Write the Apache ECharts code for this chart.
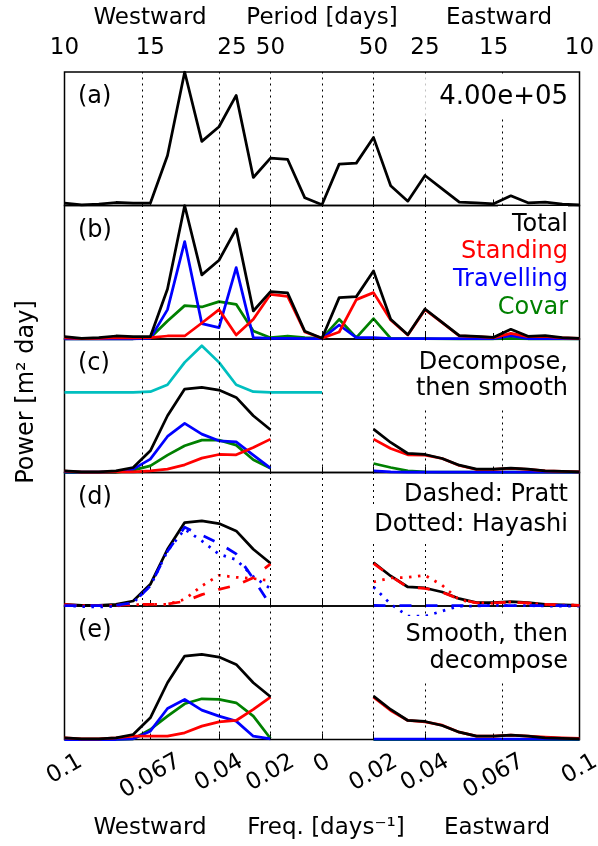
<!DOCTYPE html>
<html><head><meta charset="utf-8">
<script src="https://cdn.jsdelivr.net/npm/echarts@6/dist/echarts.min.js"></script>
<style>html,body{margin:0;padding:0;background:#fff}#c{width:598px;height:846px}</style>
</head><body><div id="c"></div>
<script>
// ---------------- DATA (power in units of 1e5 m^2 day) ----------------
const freq = [-0.1, -0.09333, -0.08667, -0.08, -0.07333, -0.06667, -0.06, -0.05333, -0.04667, -0.04, -0.03333, -0.02667, -0.02, -0.01333, -0.00667, 0,
  0.00667, 0.01333, 0.02, 0.02667, 0.03333, 0.04, 0.04667, 0.05333, 0.06, 0.06667, 0.07333, 0.08, 0.08667, 0.09333, 0.1];

const topTickValues = [-0.1, -0.06667, -0.035, -0.02, 0.02, 0.04, 0.06667, 0.1];
const topTickLabels = ['10', '15', '25', '50', '50', '25', '15', '10'];
const bottomTickValues = [-0.1, -0.06667, -0.04, -0.02, 0, 0.02, 0.04, 0.06667, 0.1];
const bottomTickLabels = ['0.1', '0.067', '0.04', '0.02', '0', '0.02', '0.04', '0.067', '0.1'];
const gridLineValues = [-0.06667, -0.04, -0.02, 0, 0.02, 0.04, 0.06667];
const yMax = 4.0;

// (a)/(b) raw spectra
const totalRaw = [0.07, 0.02, 0.04, 0.09, 0.07, 0.07, 1.50, 4.00, 1.92, 2.36, 3.30, 0.84, 1.42, 1.38, 0.23, 0.02,
  1.24, 1.27, 2.04, 0.59, 0.13, 0.90, 0.50, 0.10, 0.08, 0.05, 0.29, 0.08, 0.10, 0.04, 0.02];
const standingRaw = [0.03, 0.01, 0.02, 0.04, 0.03, 0.04, 0.09, 0.09, 0.48, 0.88, 0.12, 0.59, 1.34, 1.28, 0.21, 0.02,
  0.21, 1.18, 1.39, 0.57, 0.12, 0.88, 0.49, 0.09, 0.07, 0.04, 0.17, 0.07, 0.08, 0.03, 0.02];
const travellingRaw = [0, 0, 0, 0, 0, 0.02, 0.88, 2.92, 0.46, 0.34, 2.14, 0.04, 0.02, 0.02, 0.01, 0.01,
  0.42, 0.04, 0.04, 0.01, 0.01, 0.01, 0.01, 0.01, 0.01, 0.01, 0.10, 0.01, 0.01, 0.01, 0];
const covarRaw = [0, 0, 0, 0, 0, 0.04, 0.54, 1.00, 0.96, 1.12, 1.04, 0.24, 0.04, 0.09, 0.04, 0.02,
  0.59, 0.04, 0.61, 0.02, 0.01, 0.01, 0, 0, 0, 0, 0.02, 0, 0, 0, 0];

// smoothed total (c, d, e)
const totalSmooth = [0.05, 0.02, 0.02, 0.05, 0.15, 0.65, 1.70, 2.50, 2.55, 2.47, 2.25, 1.70, 1.28, null, null, null,
  null, null, 1.30, 0.90, 0.57, 0.54, 0.42, 0.22, 0.10, 0.10, 0.13, 0.10, 0.05, 0.03, 0.02];
// (c) decompose, then smooth
const standingC = [0.04, 0.01, 0.01, 0.02, 0.02, 0.05, 0.10, 0.23, 0.43, 0.54, 0.53, 0.75, 1.00, null, null, null,
  null, null, 1.00, 0.72, 0.53, 0.52, 0.42, 0.21, 0.09, 0.09, 0.12, 0.09, 0.05, 0.03, 0.02];
const travellingC = [0.01, 0.01, 0.01, 0.02, 0.10, 0.40, 1.08, 1.47, 1.15, 0.95, 0.92, 0.52, 0.13, null, null, null,
  null, null, 0.05, 0.02, 0.01, 0.01, 0.01, 0.01, 0.01, 0.01, 0.01, 0.01, 0.01, 0.01, 0.01];
const covarC = [0, 0, 0, 0, 0.07, 0.20, 0.52, 0.80, 0.97, 0.97, 0.82, 0.38, 0.13, null, null, null,
  null, null, 0.27, 0.15, 0.05, 0.02, 0.01, 0.01, 0.01, 0.01, 0.01, 0.01, 0.01, 0.01, 0.01];
const kernelC = [2.40, 2.40, 2.40, 2.40, 2.40, 2.42, 2.63, 3.30, 3.80, 3.30, 2.63, 2.42, 2.40, 2.40, 2.40, 2.40,
  null, null, null, null, null, null, null, null, null, null, null, null, null, null, null];
// (d) Pratt (dashed) and Hayashi (dotted)
const standingPratt = [0.04, 0.01, 0.01, 0.02, 0.05, 0.05, 0.06, 0.14, 0.34, 0.50, 0.62, 0.85, 1.26, null, null, null,
  null, null, 1.28, 0.89, 0.56, 0.53, 0.41, 0.21, 0.09, 0.09, 0.12, 0.09, 0.05, 0.03, 0.02];
const travellingPratt = [0.01, 0.01, 0.01, 0.02, 0.10, 0.60, 1.64, 2.36, 2.12, 1.88, 1.56, 0.82, 0.02, null, null, null,
  null, null, 0.02, 0.01, 0.01, 0.01, 0.01, 0.01, 0.01, 0.01, 0.01, 0.01, 0.01, 0.01, 0.01];
const standingHayashi = [0.03, 0.01, 0.01, 0.02, 0.04, 0.05, 0.05, 0.20, 0.60, 0.92, 0.86, 0.82, 0.76, null, null, null,
  null, null, 0.72, 0.84, 0.86, 0.92, 0.62, 0.18, 0.10, 0.08, 0.12, 0.08, 0.05, 0.03, 0.02];
const travellingHayashi = [0.02, -0.02, -0.03, -0.01, 0.10, 0.60, 1.65, 2.30, 1.95, 1.55, 1.39, 0.88, 0.52, null, null, null,
  null, null, 0.57, 0.06, -0.30, -0.31, -0.15, 0.00, 0.00, 0.02, 0.01, 0.01, 0.00, 0.00, 0.00];
// (e) smooth, then decompose
const standingE = [0.05, 0.02, 0.02, 0.05, 0.10, 0.10, 0.10, 0.20, 0.40, 0.53, 0.57, 0.90, 1.27, null, null, null,
  null, null, 1.27, 0.87, 0.57, 0.53, 0.43, 0.22, 0.10, 0.10, 0.13, 0.10, 0.07, 0.05, 0.03];
const travellingE = [0, 0, 0, 0, 0.02, 0.25, 0.93, 1.20, 0.88, 0.70, 0.55, 0.10, 0.02, null, null, null,
  null, null, 0.01, 0.01, 0.01, 0.01, 0.01, 0.01, 0.01, 0.01, 0.01, 0.01, 0.01, 0.01, 0.01];
const covarE = [0, 0, 0, 0, 0.02, 0.30, 0.70, 1.07, 1.22, 1.20, 1.10, 0.70, 0.03, null, null, null,
  null, null, 0, 0, 0, 0, 0, 0, 0, 0, 0, 0, 0, 0, 0];

// ---------------- LAYOUT ----------------
const FONT = '"DejaVu Sans", sans-serif';
const FS = 23;   // axis text
const AFS = 24;  // annotation text
const L = 64.5, W = 515;
const tops = [72, 205.5, 339, 472.5, 606];
const H = 133.5;
const LW = 2.75;
const BLACK = '#000000', RED = '#ff0000', BLUE = '#0000ff', GREEN = '#008000', CYAN = '#00bfbf';
const DASH = [12, 14], DOT = [2.5, 6.5];

const chart = echarts.init(document.getElementById('c'), null, {renderer: 'canvas'});

const grids = tops.map(t => ({left: L, top: t, width: W, height: H, show: true, borderColor: '#000', borderWidth: 1.5,
  backgroundColor: 'transparent', containLabel: false, outerBoundsMode: 'none'}));

function findLabel(vals, labels, v) {
  const i = vals.findIndex(b => Math.abs(b - v) < 1e-4);
  return i < 0 ? '' : labels[i];
}
const richKey = {'0': 'r0', '0.1': 'r1', '0.02': 'r2', '0.04': 'r2', '0.067': 'r3'};
function richFor(w) { const d = 0.25 * w; return {fontSize: FS, fontFamily: FONT, color: '#000', padding: [1.732 * d, d, 0, 0]}; }

const xAxes = tops.map((t, g) => ({
  type: 'value', gridIndex: g, min: -0.1, max: 0.1, position: 'bottom',
  axisLine: {show: false}, splitLine: {show: false},
  axisTick: {show: true, inside: true, length: 6, customValues: bottomTickValues, lineStyle: {color: '#000', width: 1}},
  axisLabel: g === 4 ? {
    show: true, customValues: bottomTickValues, rotate: 30, align: 'center', verticalAlign: 'middle', margin: 21,
    showMinLabel: true, showMaxLabel: true, hideOverlap: false,
    formatter: v => { const s = findLabel(bottomTickValues, bottomTickLabels, v); return '{' + richKey[s] + '|' + s + '}'; },
    rich: {r0: richFor(14), r1: richFor(35), r2: richFor(49), r3: richFor(63)}
  } : {show: false}
}));
xAxes.push({
  type: 'value', gridIndex: 0, min: -0.1, max: 0.1, position: 'top',
  axisLine: {show: false}, splitLine: {show: false}, axisTick: {show: false},
  axisLabel: {show: true, customValues: topTickValues, showMinLabel: true, showMaxLabel: true, hideOverlap: false,
    margin: 12, fontSize: FS, fontFamily: FONT, color: '#000',
    formatter: v => findLabel(topTickValues, topTickLabels, v)}
});
const yAxes = tops.map((t, g) => ({type: 'value', gridIndex: g, min: 0, max: yMax,
  axisLine: {show: false}, axisTick: {show: false}, axisLabel: {show: false}, splitLine: {show: false}}));

function pts(arr) { return freq.map((f, i) => [f, arr[i] === null ? '-' : arr[i]]); }
function line(g, arr, color, type, z, clip) {
  return {type: 'line', xAxisIndex: g, yAxisIndex: g, data: pts(arr), symbol: 'none', showSymbol: false,
    lineStyle: {color: color, width: LW, type: type || 'solid', join: 'round', cap: 'butt'},
    itemStyle: {color: color}, z: z || 3, clip: clip !== false, animation: false, connectNulls: false};
}
const series = [];
tops.forEach((t, g) => {
  series.push({type: 'line', xAxisIndex: g, yAxisIndex: g, data: [], z: 1, silent: true, animation: false,
    markLine: {silent: true, symbol: 'none', animation: false, label: {show: false},
      lineStyle: {color: '#000', width: 1, type: [2, 4]},
      data: gridLineValues.map(v => ({xAxis: v}))}});
});
// (a)
series.push(line(0, totalRaw, BLACK, 'solid', 4));
// (b)
series.push(line(1, covarRaw, GREEN), line(1, travellingRaw, BLUE), line(1, standingRaw, RED), line(1, totalRaw, BLACK, 'solid', 4));
// (c)
series.push(line(2, kernelC, CYAN), line(2, covarC, GREEN), line(2, travellingC, BLUE), line(2, standingC, RED), line(2, totalSmooth, BLACK, 'solid', 4));
// (d)
series.push(line(3, totalSmooth, BLACK, 'solid', 3),
  line(3, standingHayashi, RED, DOT, 4, false), line(3, travellingHayashi, BLUE, DOT, 4, false),
  line(3, standingPratt, RED, DASH, 4), line(3, travellingPratt, BLUE, DASH, 4));
// (e)
series.push(line(4, covarE, GREEN), line(4, travellingE, BLUE), line(4, standingE, RED), line(4, totalSmooth, BLACK, 'solid', 4));

// ---------------- TEXT ----------------
const graphics = [];
function txt(text, x, y, opt) {
  opt = opt || {};
  const base = {text: text, fill: opt.color || '#000', fontSize: opt.size || AFS, fontFamily: FONT,
    align: opt.align || 'right', verticalAlign: 'middle'};
  if (opt.box) {
    graphics.push({type: 'text', x: x, y: y, z: 90, silent: true,
      style: Object.assign({}, base, {fill: 'rgba(0,0,0,0)', backgroundColor: '#fff', padding: [7, 7, 7, 7]})});
  }
  graphics.push({type: 'text', x: x, y: y, z: 100, silent: true, rotation: opt.rotation || 0, style: base});
}
const RX = 568;
['(a)', '(b)', '(c)', '(d)', '(e)'].forEach((s, i) => txt(s, 78, tops[i] + 25, {align: 'left'}));
txt('4.00e+05', RX, 97, {box: true, size: 26});
txt('Total', RX, 225, {box: true});
txt('Standing', RX, 252, {box: true, color: RED});
txt('Travelling', RX, 280, {box: true, color: BLUE});
txt('Covar', RX, 308, {box: true, color: GREEN});
txt('Decompose,', RX, 363, {box: true});
txt('then smooth', RX, 389, {box: true});
txt('Dashed: Pratt', RX, 495, {box: true});
txt('Dotted: Hayashi', RX, 525, {box: true});
txt('Smooth, then', RX, 635, {box: true});
txt('decompose', RX, 662, {box: true});
txt('Westward', 150, 18, {align: 'center', size: FS});
txt('Period [days]', 322, 18, {align: 'center', size: FS});
txt('Eastward', 499, 18, {align: 'center', size: FS});
txt('Westward', 150, 828, {align: 'center', size: FS});
txt('Freq. [days\u207B\u00B9]', 326, 828, {align: 'center', size: FS});
txt('Eastward', 497, 828, {align: 'center', size: FS});
txt('Power [m\u00B2 day]', 27, 392, {align: 'center', rotation: Math.PI / 2});

chart.setOption({
  animation: false,
  backgroundColor: '#fff',
  grid: grids,
  xAxis: xAxes,
  yAxis: yAxes,
  series: series,
  graphic: {elements: graphics}
});
</script></body></html>
